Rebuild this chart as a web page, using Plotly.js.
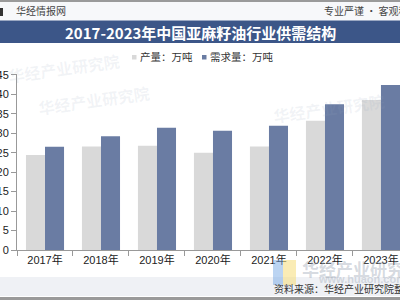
<!DOCTYPE html>
<html><head><meta charset="utf-8">
<script src="https://cdn.plot.ly/plotly-3.0.1.min.js"></script>
<style>html,body{margin:0;padding:0;background:#fff;}#c{width:400px;height:300px;}</style>
</head><body><div id="c"></div>
<script>
const years = ["2017年","2018年","2019年","2020年","2021年","2022年","2023年"];
const production = [24.4, 26.6, 26.8, 25.0, 26.6, 33.2, 38.5];
const demand = [26.5, 29.2, 31.4, 30.6, 31.9, 37.4, 42.4];
const seriesNames = ["产量：万吨", "需求量：万吨"];
const seriesColors = ['#d9d9d9', '#6a7ca3'];
const titleText = "2017-2023年中国亚麻籽油行业供需结构";
const sourceText = "资料来源：华经产业研究院整理";

const font = "'Noto Sans CJK SC', 'Liberation Sans', Arial, sans-serif";
const traces = [
  {type:'bar', x: years, y: production, name: seriesNames[0], marker:{color:seriesColors[0]}},
  {type:'bar', x: years, y: demand, name: seriesNames[1], marker:{color:seriesColors[1]}}
];
const wm = 'rgba(150,165,190,0.13)';
const legX = [132, 202];
const legShapes = legX.map((x,i)=>({type:'rect', xref:'paper', yref:'paper', x0:x/400, x1:(x+4.5)/400,
  y0:1-59.5/300, y1:1-55/300, fillcolor:seriesColors[i], line:{width:0}}));
const legAnn = legX.map((x,i)=>({xref:'paper', yref:'paper', x:(x+6)/400, y:1-57/300, xanchor:'left', yanchor:'middle',
  showarrow:false, text:seriesNames[i], font:{family:font, size:10.5, color:'#333'}}));
const layout = {
  width:400, height:300,
  margin:{l:0,r:0,t:0,b:0},
  paper_bgcolor:'#fff', plot_bgcolor:'rgba(0,0,0,0)',
  barmode:'group', bargap:0.32, bargroupgap:0,
  showlegend:false,
  xaxis:{domain:[17/400,1], range:[-0.5,6.34], showline:true, linecolor:'#999', linewidth:1,
         ticks:'outside', ticklen:5, tickcolor:'#999', tickson:'boundaries',
         tickfont:{family:"'Liberation Sans', Arial, 'Noto Sans CJK SC', sans-serif", size:11, color:'#222'},
         showgrid:false, zeroline:false, fixedrange:true},
  yaxis:{domain:[1-250/300, 1-74/300], range:[0,45.2], dtick:5, tick0:0, showline:true, linecolor:'#999', linewidth:1,
         ticks:'outside', ticklen:5, tickcolor:'#999', showgrid:false, zeroline:false,
         tickfont:{family:"'Liberation Sans', Arial, sans-serif", size:11, color:'#222'}},
  shapes:[
    {type:'rect', xref:'paper', yref:'paper', x0:0, x1:1, y0:1-2/300, y1:1, fillcolor:'#9a9a9a', line:{width:0}, layer:'below'},
    {type:'rect', xref:'paper', yref:'paper', x0:0, x1:1, y0:1-20.5/300, y1:1-2/300, fillcolor:'#f7f8fa', line:{width:0}, layer:'below'},
    {type:'rect', xref:'paper', yref:'paper', x0:0, x1:3/400, y0:1-16/300, y1:1-8/300, fillcolor:'#333', line:{width:0}},
    {type:'rect', xref:'paper', yref:'paper', x0:0, x1:1, y0:1-43/300, y1:1-20.5/300, fillcolor:'#3c5688', line:{width:0}, layer:'below'},
    {type:'rect', xref:'paper', yref:'paper', x0:0, x1:1, y0:4/300, y1:23/300, fillcolor:'#eff1f5', line:{width:0}, layer:'below'},
    {type:'rect', xref:'paper', yref:'paper', x0:0, x1:1, y0:0, y1:3/300, fillcolor:'#9a9a9a', line:{width:0}, layer:'below'},
    {type:'rect', xref:'paper', yref:'paper', x0:273/400, x1:283/400, y0:15/300, y1:40/300, fillcolor:'rgba(120,170,230,0.5)', line:{width:0}},
    {type:'rect', xref:'paper', yref:'paper', x0:283/400, x1:296/400, y0:15/300, y1:40/300, fillcolor:'rgba(245,220,120,0.55)', line:{width:0}},
    ...legShapes
  ],
  annotations:[
    {xref:'paper', yref:'paper', x:14/400, y:1-11/300, xanchor:'left', yanchor:'middle', showarrow:false,
     text:'华经情报网', font:{family:font, size:10, color:'#444'}},
    {xref:'paper', yref:'paper', x:322/400, y:1-11/300, xanchor:'left', yanchor:'middle', showarrow:false,
     text:'专业严谨 • 客观科学', font:{family:font, size:10, color:'#444'}},
    {xref:'paper', yref:'paper', x:0.5, y:1-32/300, xanchor:'center', yanchor:'middle', showarrow:false,
     text:'<b>'+titleText+'</b>', font:{family:font, size:15, color:'#fff'}},
    {xref:'paper', yref:'paper', x:272/400, y:12/300, xanchor:'left', yanchor:'middle', showarrow:false,
     text:sourceText, font:{family:font, size:10, color:'#333'}},
    {xref:'paper', yref:'paper', x:300/400, y:32/300, xanchor:'left', yanchor:'middle', showarrow:false,
     text:'<b>华经产业研究院</b>', font:{family:font, size:17, color:'rgba(150,160,175,0.4)'}},
    {xref:'paper', yref:'paper', x:316/400, y:21/300, xanchor:'left', yanchor:'middle', showarrow:false,
     text:'<b>www.huaon.com</b>', font:{family:"'Liberation Sans', Arial, sans-serif", size:11, color:'rgba(150,160,175,0.35)'}},
    {xref:'paper', yref:'paper', x:5/400, y:1-68/300, xanchor:'left', yanchor:'middle', showarrow:false, textangle:-8,
     text:'<b>华经产业研究院</b>', font:{family:font, size:16, color:wm}},
    {xref:'paper', yref:'paper', x:35/400, y:1-100/300, xanchor:'left', yanchor:'middle', showarrow:false, textangle:-8,
     text:'<b>华经产业研究院</b>', font:{family:font, size:16, color:wm}},
    {xref:'paper', yref:'paper', x:270/400, y:1-108/300, xanchor:'left', yanchor:'middle', showarrow:false, textangle:-8,
     text:'<b>华经产业研究院</b>', font:{family:font, size:16, color:wm}},
    ...legAnn
  ]
};
Plotly.newPlot('c', traces, layout, {displayModeBar:false, staticPlot:true});
</script></body></html>
